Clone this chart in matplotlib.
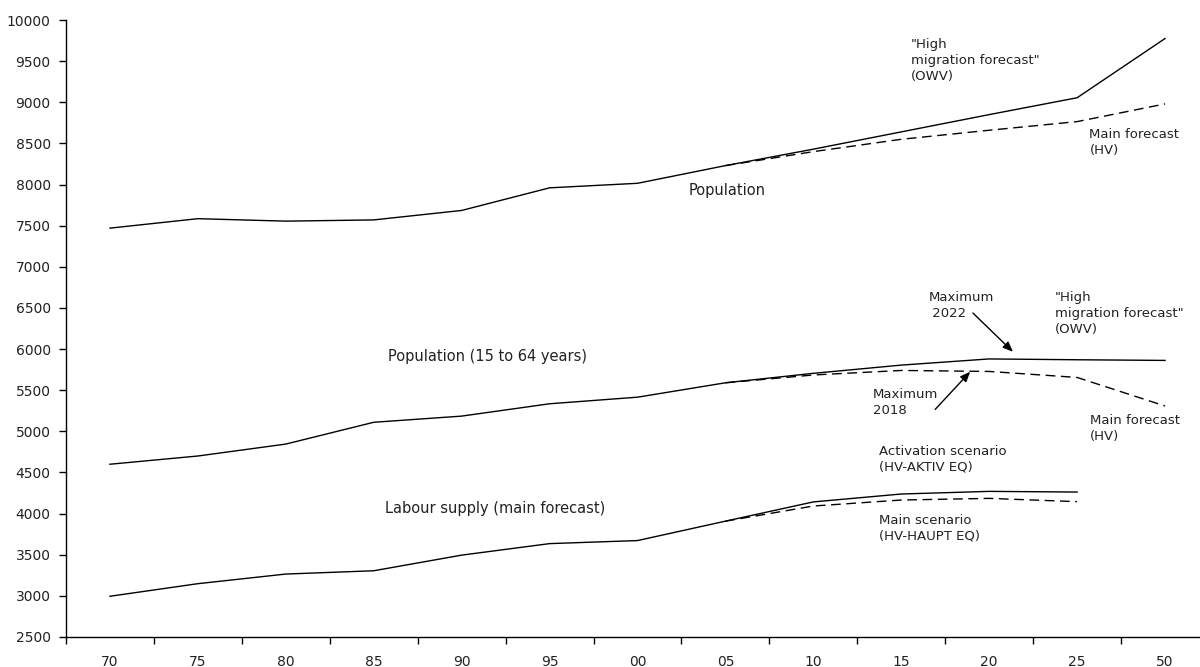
import matplotlib.pyplot as plt

plt.rcParams['font.family'] = ['DejaVu Sans']

# period labels on the x axis (one category per period)
periods = ["70", "75", "80", "85", "90", "95", "00", "05", "10", "15", "20", "25", "50"]

# total population, thousands
pop_high = [7470, 7585, 7555, 7570, 7685, 7960, 8015, 8230, 8430, 8640, 8850, 9055, 9775]
pop_main = [None] * 7 + [8230, 8400, 8550, 8660, 8765, 8980]

# population aged 15 to 64
work_high = [4600, 4700, 4845, 5110, 5185, 5335, 5415, 5590, 5705, 5805, 5880, 5870, 5862]
work_main = [None] * 7 + [5590, 5685, 5740, 5728, 5655, 5308]

# labour supply
labour_activ = [2995, 3148, 3265, 3305, 3495, 3635, 3672, 3908, 4142, 4238, 4270, 4262]
labour_main = [None] * 7 + [3908, 4092, 4165, 4185, 4145]

txt_color = "#222222"
dash = (0, (7, 4))


def series(values):
    xs = [i for i, v in enumerate(values) if v is not None]
    ys = [v for v in values if v is not None]
    return xs, ys


fig = plt.figure(figsize=(12, 6.67), dpi=100)
ax = fig.add_axes([0.055, 0.045, 0.9525, 0.925])

for vals, ls in [(pop_high, "-"), (pop_main, dash),
                 (work_high, "-"), (work_main, dash),
                 (labour_activ, "-"), (labour_main, dash)]:
    xs, ys = series(vals)
    ax.plot(xs, ys, color="black", lw=1.0, linestyle=ls)

ax.set_xlim(-0.5, len(periods) - 0.5)
ax.set_ylim(2500, 10000)
ax.set_yticks(range(2500, 10001, 500))

# ticks on category boundaries, labels in the middle of each category
ax.set_xticks([i - 0.5 for i in range(len(periods) + 1)])
ax.set_xticklabels([])
ax.set_xticks(range(len(periods)), minor=True)
ax.set_xticklabels(periods, minor=True)
ax.tick_params(axis="x", which="major", length=5, width=1, direction="out")
ax.tick_params(axis="x", which="minor", length=0, pad=13, labelsize=10, labelcolor=txt_color)
ax.tick_params(axis="y", length=5, width=1, direction="out", pad=6, labelsize=10, labelcolor=txt_color)

for side in ["top", "right"]:
    ax.spines[side].set_visible(False)
for side in ["left", "bottom"]:
    ax.spines[side].set_linewidth(1.0)

# series labels
ax.text(6.576, 7933, "Population", fontsize=10.5, color=txt_color, va="center")
ax.text(3.163, 5915, "Population (15 to 64 years)", fontsize=10.5, color=txt_color, va="center")
ax.text(3.129, 4067, "Labour supply (main forecast)", fontsize=10.5, color=txt_color, va="center")

small = dict(fontsize=9.5, color=txt_color, va="center", linespacing=1.3)
ax.text(9.11, 9502, '"High\nmigration forecast"\n(OWV)', **small)
ax.text(11.14, 8517, "Main forecast\n(HV)", **small)
ax.text(9.307, 6535, "Maximum\n 2022", **small)
ax.text(10.75, 6434, '"High\nmigration forecast"\n(OWV)', **small)
ax.text(8.677, 5352, "Maximum\n2018", **small)
ax.text(11.15, 5040, "Main forecast\n(HV)", **small)
ax.text(8.749, 4661, "Activation scenario\n(HV-AKTIV EQ)", **small)
ax.text(8.749, 3824, "Main scenario\n(HV-HAUPT EQ)", **small)

arrow = dict(arrowstyle="-|>,head_length=0.6,head_width=0.25", color="black", lw=1.0,
             shrinkA=0, shrinkB=0)
ax.annotate("", xy=(10.27, 5967), xytext=(9.815, 6438), arrowprops=arrow)
ax.annotate("", xy=(9.784, 5724), xytext=(9.386, 5267), arrowprops=arrow)

fig.savefig("out.png", dpi=100)
